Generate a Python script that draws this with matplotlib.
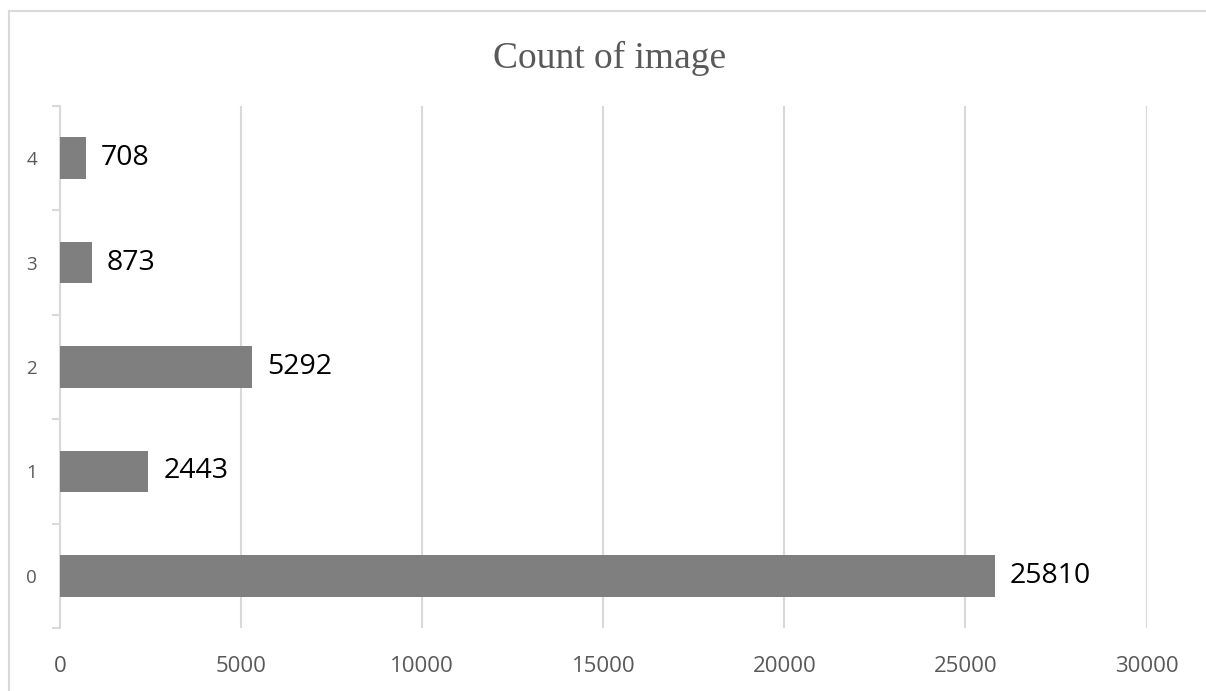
import matplotlib.pyplot as plt
from matplotlib.lines import Line2D
from matplotlib.ticker import FixedLocator

categories = ['0', '1', '2', '3', '4']
counts = [25810, 2443, 5292, 873, 708]
x_ticks = [0, 5000, 10000, 15000, 20000, 25000, 30000]
title = 'Count of image'

W, H = 1206, 691
fig = plt.figure(figsize=(W / 100, H / 100), dpi=100)

# marco gris claro del grafico (solo arriba e izquierda se ven)
fig.add_artist(Line2D([8.5 / W, 8.5 / W], [0, 1 - 10.5 / H], color='#d9d9d9', lw=1.5))
fig.add_artist(Line2D([8.5 / W, 1], [1 - 10.5 / H, 1 - 10.5 / H], color='#d9d9d9', lw=1.5))

left, right = 60 / W, 1146.5 / W
bottom, top = 1 - 628 / H, 1 - 106 / H
ax = fig.add_axes([left, bottom, right - left, top - bottom])

pos = list(range(len(categories)))
ax.barh(pos, counts, height=0.4, color='#7f7f7f', zorder=3)

for p, v in zip(pos, counts):
    ax.annotate(str(v), (v, p), xytext=(11, 0), textcoords='offset points',
                va='center', ha='left', fontsize=20.5, family='Open Sans', color='black')

ax.set_xlim(0, 30000)
ax.set_ylim(-0.5, len(categories) - 0.5)
ax.set_xticks(x_ticks)
ax.set_xticklabels([str(t) for t in x_ticks], fontsize=16, family='Open Sans', color='#595959')
ax.tick_params(axis='x', length=0, pad=20)
ax.grid(axis='x', color='#d9d9d9', lw=1.5, zorder=0)

ax.set_yticks(pos)
ax.set_yticklabels(categories, fontsize=13.5, family='Open Sans', color='#595959')
ax.tick_params(axis='y', which='major', length=0, pad=16.5)
ax.yaxis.set_minor_locator(FixedLocator([p - 0.5 for p in range(len(categories) + 1)]))
ax.tick_params(axis='y', which='minor', length=6, width=1.5, color='#d9d9d9')

for s in ['top', 'right', 'bottom']:
    ax.spines[s].set_visible(False)
ax.spines['left'].set_color('#d9d9d9')
ax.spines['left'].set_linewidth(1.5)

fig.text(610 / W, 1 - 58 / H, title, ha='center', va='center', fontsize=27,
         family='Liberation Serif', color='#595959')

fig.savefig('out.png', dpi=100)
